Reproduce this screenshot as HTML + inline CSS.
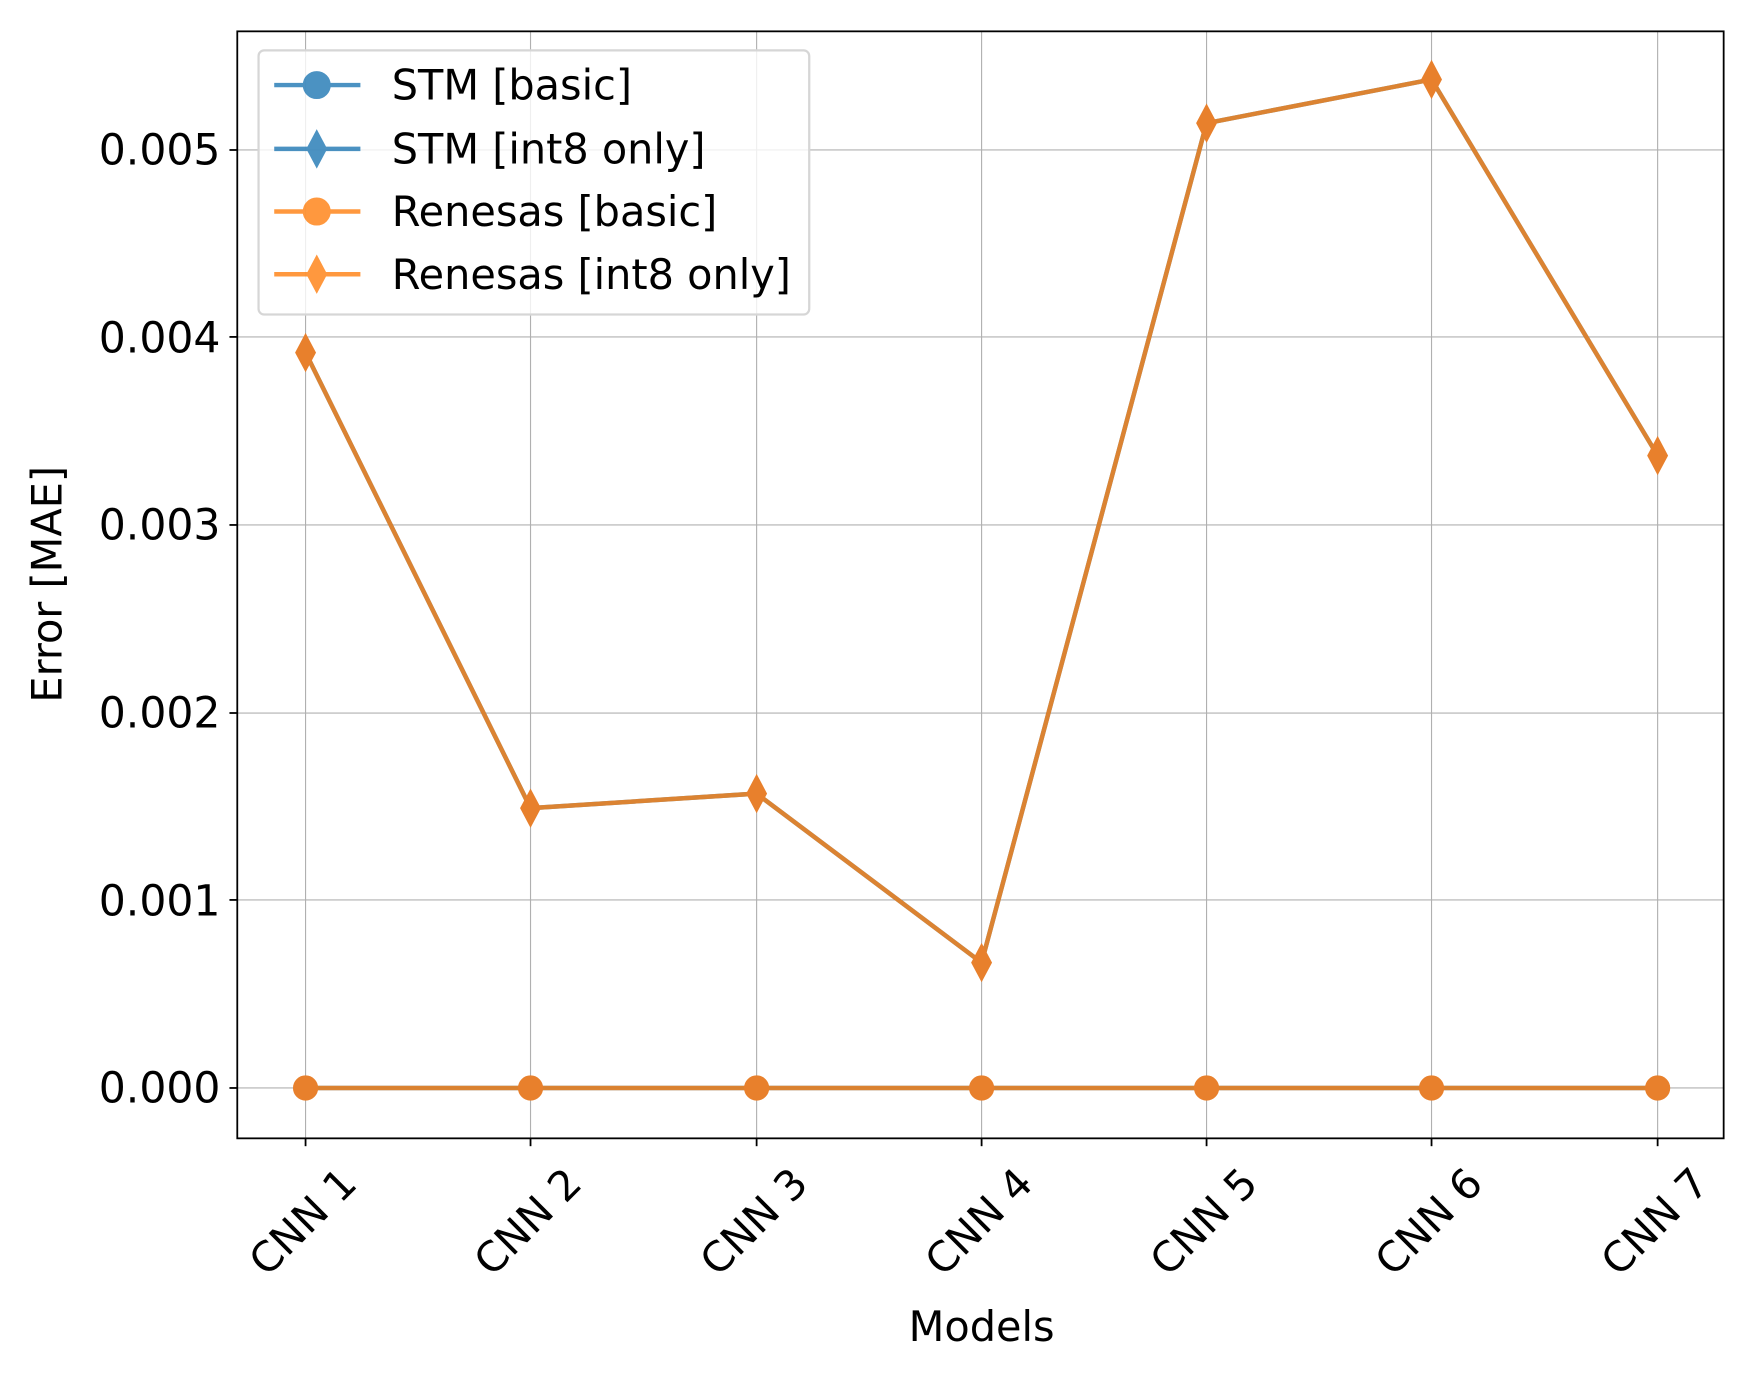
<!DOCTYPE html>
<html><head><style>html,body{margin:0;padding:0;background:#fff}svg{display:block}</style></head><body>
<svg width="1755" height="1379" viewBox="0 0 1568 1232" preserveAspectRatio="none" xmlns="http://www.w3.org/2000/svg" font-family="DejaVu Sans, Liberation Sans, sans-serif">
<rect width="1568" height="1232" fill="#fff"/>
<g stroke="#b0b0b0" stroke-width="1">
<line x1="273" y1="28" x2="273" y2="1017"/><line x1="474" y1="28" x2="474" y2="1017"/><line x1="676" y1="28" x2="676" y2="1017"/><line x1="877" y1="28" x2="877" y2="1017"/><line x1="1078" y1="28" x2="1078" y2="1017"/><line x1="1279" y1="28" x2="1279" y2="1017"/><line x1="1481" y1="28" x2="1481" y2="1017"/>
<line x1="212" y1="972" x2="1540" y2="972"/><line x1="212" y1="804" x2="1540" y2="804"/><line x1="212" y1="637" x2="1540" y2="637"/><line x1="212" y1="469" x2="1540" y2="469"/><line x1="212" y1="301" x2="1540" y2="301"/><line x1="212" y1="134" x2="1540" y2="134"/>
</g>
<defs>
<g id="d"><path d="M0,-16 L8.5,0 L0,16 L-8.5,0 Z"/></g>
</defs>
<g opacity="0.8" stroke="#1f77b4" fill="#1f77b4" stroke-width="4">
<polyline fill="none" points="273,972 474,972 676,972 877,972 1078,972 1279,972 1481,972"/>
<polyline fill="none" points="273,315 474,722 676,709 877,860 1078,110 1279,71 1481,407"/>
</g>
<g opacity="0.8" stroke="#ff7f0e" fill="#ff7f0e" stroke-width="4">
<polyline fill="none" points="273,972 474,972 676,972 877,972 1078,972 1279,972 1481,972"/>
<polyline fill="none" points="273,315 474,722 676,709 877,860 1078,110 1279,71 1481,407"/>
</g>
<g fill="#e8802c" stroke="#e8802c" stroke-width="1.5">
<circle cx="273" cy="972" r="10.5"/><circle cx="474" cy="972" r="10.5"/><circle cx="676" cy="972" r="10.5"/><circle cx="877" cy="972" r="10.5"/><circle cx="1078" cy="972" r="10.5"/><circle cx="1279" cy="972" r="10.5"/><circle cx="1481" cy="972" r="10.5"/>
<use href="#d" x="273" y="315"/><use href="#d" x="474" y="722"/><use href="#d" x="676" y="709"/><use href="#d" x="877" y="860"/><use href="#d" x="1078" y="110"/><use href="#d" x="1279" y="71"/><use href="#d" x="1481" y="407"/>
</g>
<rect x="212" y="28" width="1328" height="989" fill="none" stroke="#000" stroke-width="1.6"/>
<g stroke="#000" stroke-width="1.6">
<line x1="205" y1="972" x2="212" y2="972"/><line x1="205" y1="804" x2="212" y2="804"/><line x1="205" y1="637" x2="212" y2="637"/><line x1="205" y1="469" x2="212" y2="469"/><line x1="205" y1="301" x2="212" y2="301"/><line x1="205" y1="134" x2="212" y2="134"/>
<line x1="273" y1="1017" x2="273" y2="1024"/><line x1="474" y1="1017" x2="474" y2="1024"/><line x1="676" y1="1017" x2="676" y2="1024"/><line x1="877" y1="1017" x2="877" y2="1024"/><line x1="1078" y1="1017" x2="1078" y2="1024"/><line x1="1279" y1="1017" x2="1279" y2="1024"/><line x1="1481" y1="1017" x2="1481" y2="1024"/>
</g>
<g font-size="38" text-anchor="end" fill="#000">
<text x="197" y="985">0.000</text><text x="197" y="818">0.001</text><text x="197" y="650">0.002</text><text x="197" y="482">0.003</text><text x="197" y="315">0.004</text><text x="197" y="147">0.005</text>
</g>
<g font-size="37" text-anchor="middle" fill="#000">
<text transform="translate(271,1092) rotate(-45)" dy="12">CNN 1</text>
<text transform="translate(472,1092) rotate(-45)" dy="12">CNN 2</text>
<text transform="translate(674,1092) rotate(-45)" dy="12">CNN 3</text>
<text transform="translate(875,1092) rotate(-45)" dy="12">CNN 4</text>
<text transform="translate(1076,1092) rotate(-45)" dy="12">CNN 5</text>
<text transform="translate(1277,1092) rotate(-45)" dy="12">CNN 6</text>
<text transform="translate(1479,1092) rotate(-45)" dy="12">CNN 7</text>
<text x="877" y="1198">Models</text>
<text transform="translate(55,522) rotate(-90)">Error [MAE]</text>
</g>
<rect x="231" y="45" width="492" height="236" rx="5" fill="#fff" fill-opacity="0.8" stroke="#d6d6d6" stroke-width="2"/>
<g stroke-width="4" opacity="0.8">
<g stroke="#1f77b4" fill="#1f77b4"><line x1="245" y1="76" x2="322" y2="76"/><circle cx="283" cy="76" r="10.5"/><line x1="245" y1="133" x2="322" y2="133"/><use href="#d" x="283" y="133" stroke-width="1.5"/></g>
<g stroke="#ff7f0e" fill="#ff7f0e"><line x1="245" y1="189" x2="322" y2="189"/><circle cx="283" cy="189" r="10.5"/><line x1="245" y1="245" x2="322" y2="245"/><use href="#d" x="283" y="245" stroke-width="1.5"/></g>
</g>
<g font-size="37" fill="#000">
<text x="350" y="89">STM [basic]</text><text x="350" y="146">STM [int8 only]</text><text x="350" y="202">Renesas [basic]</text><text x="350" y="258">Renesas [int8 only]</text>
</g>
</svg>
</body></html>
